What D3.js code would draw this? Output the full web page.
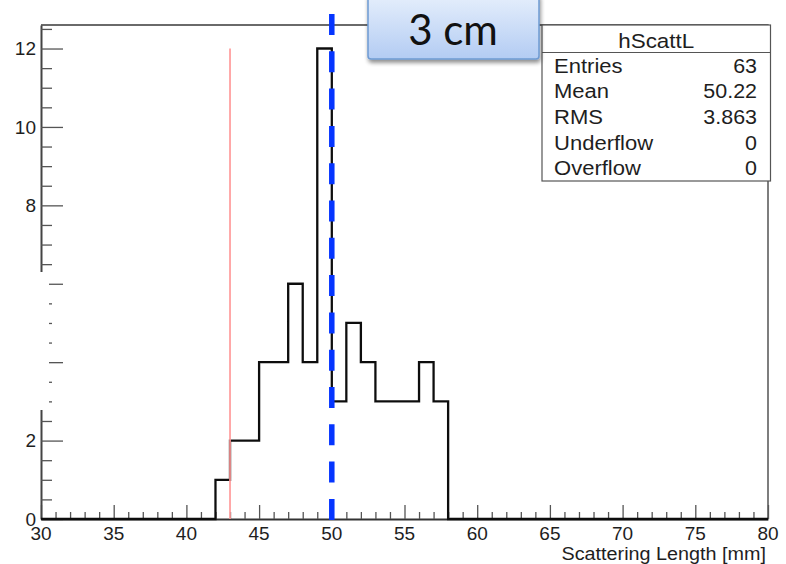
<!DOCTYPE html>
<html>
<head>
<meta charset="utf-8">
<script src="https://cdn.jsdelivr.net/npm/d3@7"></script>
<style>
  html, body { margin: 0; padding: 0; background: #fff; }
  svg { display: block; }
</style>
</head>
<body>
<svg id="chart" width="786" height="564"></svg>
<script>
// Histogram hScattL: scattering length, 1 mm bins
const binLow = [42, 43, 44, 45, 46, 47, 48, 49, 50, 51, 52, 53, 54, 55, 56, 57];
const counts = [1, 2, 2, 4, 4, 6, 4, 12, 3, 5, 4, 3, 3, 3, 4, 3];
const binWidth = 1;
const xDomain = [30, 80];
const yDomain = [0, 12.6];
const xTicks = [30, 35, 40, 45, 50, 55, 60, 65, 70, 75, 80];
const yTicks = [0, 2, 4, 6, 8, 10, 12];
const statsTitle = "hScattL";
const statsRows = [["Entries", "63"], ["Mean", "50.22"], ["RMS", "3.863"], ["Underflow", "0"], ["Overflow", "0"]];
const redLineX = 43;
const redLineTop = 12;
const blueLineX = 50;
const xTitle = "Scattering Length [mm]";
const calloutText = "3 cm";

const svg = d3.select("#chart");
const plotL = 41, plotR = 768, plotT = 25, plotB = 519;
const x = d3.scaleLinear().domain(xDomain).range([plotL, plotR]);
const y = d3.scaleLinear().domain(yDomain).range([plotB, plotT]);
const font = "'Liberation Sans', Arial, sans-serif";

// text helper: anchored text with an optional horizontal stretch
function label(parent, tx, ty, str, opts = {}) {
  const sx = opts.stretch || 1;
  return parent.append("text")
    .attr("transform", `translate(${tx},${ty}) scale(${sx},1)`)
    .attr("text-anchor", opts.anchor || "start")
    .attr("dy", opts.dy || null)
    .attr("font-family", font)
    .attr("font-size", opts.size || 19)
    .attr("fill", "#1e1e1e")
    .text(str);
}

const defs = svg.append("defs");
const grad = defs.append("linearGradient").attr("id", "calloutFill").attr("x1", 0).attr("y1", 0).attr("x2", 0).attr("y2", 1);
grad.append("stop").attr("offset", "0%").attr("stop-color", "#e6effc");
grad.append("stop").attr("offset", "100%").attr("stop-color", "#b3ccf3");
const shadow = defs.append("filter").attr("id", "shadow").attr("x", "-10%").attr("y", "-20%").attr("width", "130%").attr("height", "160%");
shadow.append("feGaussianBlur").attr("in", "SourceAlpha").attr("stdDeviation", 2);
shadow.append("feOffset").attr("dx", 1).attr("dy", 3).attr("result", "off");
shadow.append("feComponentTransfer").append("feFuncA").attr("type", "linear").attr("slope", 0.45);
const merge = shadow.append("feMerge");
merge.append("feMergeNode");
merge.append("feMergeNode").attr("in", "SourceGraphic");
const soft = defs.append("filter").attr("id", "soft");
soft.append("feGaussianBlur").attr("stdDeviation", 0.4);

// frame (top and right edges)
svg.append("path")
  .attr("d", `M${plotL},${plotT}H${plotR}V${plotB}`)
  .attr("fill", "none").attr("stroke", "#3a3a3a").attr("stroke-width", 1.3);

// x axis with 1 mm minor ticks
const xAxis = d3.axisBottom(x).tickValues(d3.range(xDomain[0], xDomain[1] + 1, 1))
  .tickSize(0).tickFormat("");
const gx = svg.append("g").attr("transform", `translate(0,${plotB})`).call(xAxis);
gx.select(".domain").attr("stroke", "#333").attr("stroke-width", 2);
gx.selectAll(".tick line")
  .attr("y2", d => (xTicks.includes(d) ? -14 : -7))
  .attr("stroke", "#555").attr("stroke-width", 1.3);
const xLab = svg.append("g");
xTicks.forEach(t => label(xLab, x(t), 539.5, t, { anchor: "middle" }));

// y axis with half-unit minor ticks
const yAxis = d3.axisLeft(y).tickValues(d3.range(0, 12.51, 0.5)).tickSize(0).tickFormat("");
const gy = svg.append("g").attr("transform", `translate(${plotL},0)`).call(yAxis);
gy.select(".domain").attr("stroke", "#444").attr("stroke-width", 2);
gy.selectAll(".tick line")
  .attr("x2", d => (yTicks.includes(d) ? 22 : 11))
  .attr("stroke", "#555").attr("stroke-width", 1.3);
const yLab = svg.append("g");
yTicks.forEach(t => label(yLab, 36, y(t), t, { anchor: "end", dy: "0.36em" }));

// blank patch over the middle of the y axis
svg.append("rect").attr("x", 0).attr("y", 272).attr("width", 49).attr("height", 138).attr("fill", "#fff");

// histogram outline
const pts = [{ x: xDomain[0], c: 0 }];
binLow.forEach((b, i) => pts.push({ x: b, c: counts[i] }));
pts.push({ x: binLow[binLow.length - 1] + binWidth, c: 0 }, { x: xDomain[1], c: 0 });
const line = d3.line().x(d => x(d.x)).y(d => y(d.c)).curve(d3.curveStepAfter);
svg.append("path").datum(pts).attr("d", line)
  .attr("fill", "none").attr("stroke", "#111").attr("stroke-width", 2.3)
  .attr("filter", "url(#soft)");

// red marker line
svg.append("line")
  .attr("x1", x(redLineX)).attr("x2", x(redLineX))
  .attr("y1", y(redLineTop)).attr("y2", y(0))
  .attr("stroke", "#ff9a9a").attr("stroke-width", 1.7);

// blue dashed marker line
svg.append("line")
  .attr("x1", x(blueLineX)).attr("x2", x(blueLineX))
  .attr("y1", 14).attr("y2", y(0) + 1)
  .attr("stroke", "#0535ff").attr("stroke-width", 5.5)
  .attr("stroke-dasharray", "21,16.3");

// statistics box
const sb = { x0: 542, x1: 770.5, y0: plotT, y1: 181 };
svg.append("rect").attr("x", sb.x0).attr("y", sb.y0)
  .attr("width", sb.x1 - sb.x0).attr("height", sb.y1 - sb.y0)
  .attr("fill", "#fff").attr("stroke", "#555").attr("stroke-width", 1.2);
svg.append("line").attr("x1", sb.x0).attr("x2", sb.x1).attr("y1", 52.5).attr("y2", 52.5)
  .attr("stroke", "#555").attr("stroke-width", 1.2);
const stats = svg.append("g");
label(stats, (sb.x0 + sb.x1) / 2, 48.3, statsTitle, { anchor: "middle", size: 19.5, stretch: 1.15 });
statsRows.forEach((r, i) => {
  const by = 72.5 + i * 25.7;
  label(stats, 554, by, r[0], { size: 19.5, stretch: 1.13 });
  label(stats, 757, by, r[1], { anchor: "end", size: 19.5, stretch: 1.1 });
});

// callout box
const cb = svg.append("g").attr("filter", "url(#shadow)");
cb.append("rect").attr("x", 368).attr("y", -6).attr("width", 171).attr("height", 65).attr("rx", 3)
  .attr("fill", "url(#calloutFill)").attr("stroke", "#6e9ad2").attr("stroke-width", 1.5);
svg.append("text").attr("x", 453).attr("y", 45)
  .attr("text-anchor", "middle").attr("font-family", "Lato, 'Open Sans', sans-serif")
  .attr("font-size", 42).attr("fill", "#111")
  .text(calloutText);

// x axis title
label(svg, 766, 560, xTitle, { anchor: "end", size: 18.5, stretch: 1.07 });
</script>
</body>
</html>
